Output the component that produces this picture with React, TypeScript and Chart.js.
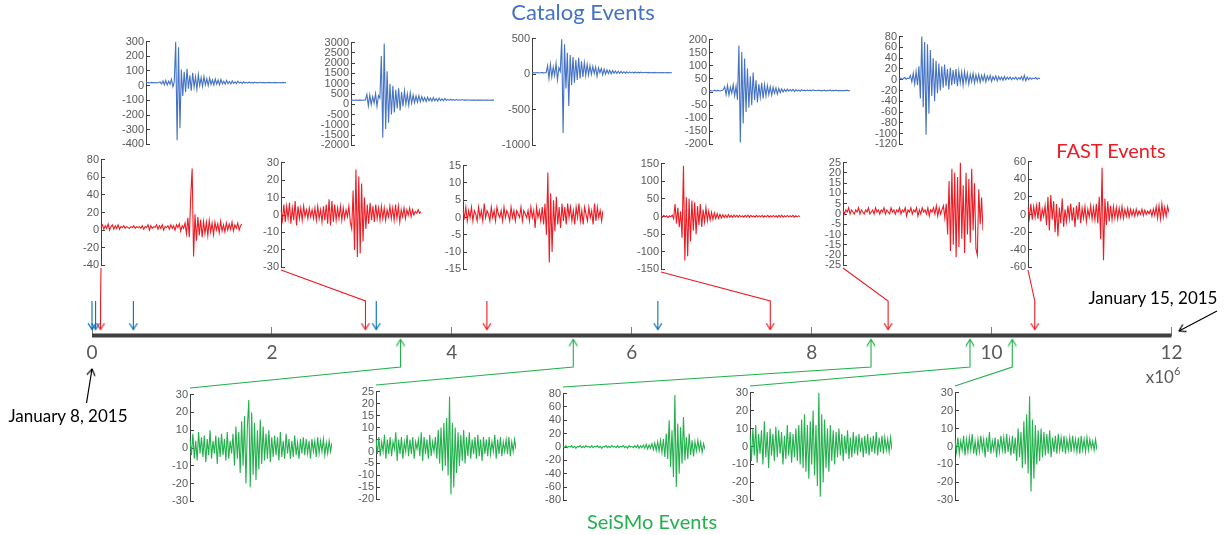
import React, { useEffect, useRef } from 'react';
import { Chart, registerables } from 'chart.js';
Chart.register(...registerables);

const W = 1231;
const H = 535;

// ---------- timeline data (units of 10^6) ----------
const timelineTickStep = 2;
const timelineMin = 0;
const timelineMax = 12;
const catalogTimes = [0.0, 0.04, 0.46, 3.16, 6.29];
const fastTimes = [0.095, 3.04, 4.39, 7.54, 8.85, 10.48];
const fastLinked = [true, true, false, true, true, true];
const seismoTimes = [3.43, 5.35, 8.66, 9.76, 10.23];

// ---------- y ranges of the small panels [min, max, step] ----------
const catalogRanges = [[-400, 300, 100], [-2000, 3000, 500], [-1000, 500, 500], [-200, 200, 50], [-120, 80, 20]];
const fastRanges = [[-40, 80, 20], [-30, 30, 10], [-15, 15, 5], [-150, 150, 50], [-25, 25, 5], [-60, 60, 20]];
const seismoRanges = [[-30, 30, 10], [-20, 25, 5], [-80, 80, 20], [-30, 30, 10], [-30, 30, 10]];

// ---------- waveforms ----------
const catalog1 = [20,21,19,20,22,19,21,20,19,21,25,12,32,6,36,4,30,10,44,-8,28,298,-372,262,-290,110,-70,95,-45,115,-20,70,-35,88,-10,60,-25,75,0,55,-5,62,5,48,0,52,8,40,5,45,10,38,6,42,12,30,10,36,14,28,12,32,16,26,14,30,18,24,15,27,18,23,17,25,19,22,18,24,19,21,20,23,18,22,19,21,20,22,19,21,20,22,19,21,20,21,19,22,20,21];
const catalog2 = [200,205,195,200,210,190,200,205,195,200,210,480,-80,450,-20,380,60,520,-100,420,300,2350,-1630,2950,-1200,1600,-900,1000,-500,900,-400,700,-200,780,-300,600,-100,650,0,500,-50,560,50,450,80,400,100,420,120,380,150,330,130,350,160,300,150,320,170,280,160,300,180,260,170,280,185,240,190,250,195,230,190,240,200,220,195,230,200,215,200,220,195,210,200,212,198,208,200,210,200,206,198,204,200,205,199,203,200,202];
const catalog3 = [20,22,18,20,24,17,20,22,19,21,20,120,-60,140,-40,100,-20,150,-80,90,40,490,-826,420,-200,300,-447,270,-150,240,-120,200,-80,230,-60,180,-40,160,-20,140,-10,120,0,110,10,100,-30,90,20,80,-10,70,0,60,10,55,5,50,15,45,10,42,12,38,15,35,14,34,16,32,18,30,17,31,18,28,19,29,18,27,20,26,19,25,20,24,19,25,20,23,20,24,19,22,20,23,19,22,20,21];
const catalog4 = [5,6,4,5,7,4,6,5,4,6,8,20,-10,25,-12,18,-5,28,-15,22,-30,177,-193,153,-120,128,-76,90,-60,60,-50,74,-30,45,-40,30,-20,35,-25,28,-15,25,-10,20,-12,18,-5,16,-8,14,-2,12,0,10,2,11,3,9,4,10,2,9,4,8,3,9,5,7,4,8,5,7,4,8,6,6,5,7,5,6,5,7,4,6,5,8,4,6,5,7,5,6,4,6,5,6,5,7,4,6];
const catalog5 = [2,3,1,2,4,1,3,2,8,-4,12,-8,15,-10,25,-35,81,-51,70,-102,66,-63,55,-30,40,-40,35,-25,30,-20,25,-15,28,-12,20,-18,22,-10,18,-8,20,-12,16,-6,14,-10,15,-5,12,-8,10,-4,12,-6,9,-3,10,-5,8,-2,9,-4,7,-1,8,-3,6,0,7,-2,6,0,5,-1,6,0,5,1,5,0,4,1,5,0,4,1,6,-1,8,-2,5,0,4,1,3,2,4,1,3,2];

const fast1 = [3,6,1,5,2,7,0,4,6,1,5,2,6,1,4,3,5,2,4,3,2,4,3,5,2,4,3,4,2,5,1,4,3,6,0,5,2,4,3,6,1,5,2,6,0,4,3,5,1,6,2,5,0,6,3,7,-1,5,2,8,-4,14,-8,38,70,-30,18,-12,15,-6,12,-8,10,-4,9,-6,11,-2,8,-5,9,0,7,-3,10,-1,6,-2,8,0,7,1,9,-1,6,2,8,0,5,7];
const fast2 = [3,-3,6,-4,5,-2,7,-5,4,-3,8,-6,5,-2,4,-3,5,-1,3,-2,4,-1,3,-2,4,-3,5,-2,3,-4,5,-3,6,-5,9,-6,8,-4,6,-3,4,-2,5,-3,4,-2,3,-1,5,-4,-8,14,-20,26,-24,22,-22,18,-15,10,-8,6,-5,7,-3,5,-4,6,-2,4,-3,5,-2,4,-3,3,-1,5,-2,4,-3,6,-2,5,-4,3,-1,4,-2,3,0,4,-1,3,0,2,1,3,1,2];
const fast3 = [2,0,3,-1,2,0,3,-1,2,1,-1,3,0,2,-1,4,0,2,1,-1,3,0,2,-1,3,1,0,2,-1,3,0,2,1,-1,3,0,2,-1,2,1,0,3,-1,2,1,0,2,-1,3,0,2,-3,3,0,2,-1,3,-2,4,-5,13,-13,7,-10,5,-4,6,-2,3,-3,4,-1,3,-2,4,0,3,-1,2,-2,3,0,4,-1,2,-2,3,1,-1,3,0,2,-2,4,-1,3,0,2,-1,2];
const fast4 = [1,-2,3,-1,2,-3,2,-1,4,-6,35,-20,25,-30,15,-60,144,-125,55,-113,50,-70,45,-40,40,-50,30,-25,35,-30,20,-15,25,-12,15,-10,12,-8,10,-6,8,-5,6,-4,5,-3,4,-3,5,-2,3,-2,4,-1,3,-2,3,-1,2,-2,3,-1,4,-2,3,-1,2,-2,3,-1,2,-1,3,-2,2,-1,3,-2,2,-1,3,-1,2,-2,3,-1,4,-2,2,-1,3,-1,2,-1,3,-2,2,-1,2,0];
const fast5 = [2,0,2,1,3,0,2,1,0,2,1,3,0,2,1,0,2,1,3,0,1,2,0,3,1,2,0,2,1,3,0,2,1,0,3,1,2,0,2,1,3,0,2,1,3,-1,2,1,3,0,2,1,3,-1,2,0,3,1,2,0,3,-1,2,1,3,0,4,-1,3,0,2,4,-2,5,-10,16,-18,22,-15,20,-21,18,-16,25,-12,14,-19,20,-10,17,-14,22,-8,15,-17,-20,12,-5,8,-8];
const fast6 = [8,-4,12,-6,9,-3,10,-5,14,-8,6,-2,10,-12,20,-18,22,-6,15,-20,12,-25,8,-10,18,-14,6,-8,10,-5,12,-7,8,-14,10,-6,14,-10,7,-4,9,-8,6,-3,10,-5,8,-6,12,-10,20,-28,53,-52,18,-12,15,-8,10,-6,9,-4,8,-5,7,-3,9,-4,6,-2,7,-3,6,-1,5,-2,6,-1,4,0,6,-1,5,0,4,1,5,-2,6,-1,9,-4,10,-5,12,-3,8,-2,9,2];

const seismo1 = [5,-4,8,-6,4,-7,9,-3,6,-5,7,-8,5,-4,10,-6,4,-3,7,-9,6,-5,8,-4,5,-7,9,-6,4,-3,8,-10,12,-6,9,-14,15,-10,18,-20,12,27,-22,20,-15,14,-18,10,-12,16,-9,12,-7,8,-6,10,-8,6,-5,7,-4,6,-7,9,-5,4,-6,8,-3,5,-6,4,-5,7,-4,3,-6,5,-3,6,-4,5,-3,4,-6,5,-2,4,-5,6,-3,4,-2,5,-4,3,-3,4,-2,3];
const seismo2 = [5,-1,6,-2,4,0,7,-3,5,-1,6,-2,4,1,8,-4,5,-1,6,-3,4,0,7,-2,5,-1,6,-3,4,1,5,-2,8,-4,6,-1,5,-3,7,-2,4,0,6,-3,9,-5,10,-8,12,-6,14,-10,23,-18,12,-15,10,-9,8,-6,7,-4,9,-5,6,-2,8,-3,5,-1,6,-3,7,-2,5,-4,6,-1,5,-2,6,-1,4,0,7,-3,5,-1,6,-2,4,0,5,-1,6,-2,4,0,5,1];
const seismo3 = [1,-1,2,-1,1,0,2,-1,1,-2,1,0,2,-1,1,-1,2,0,1,-1,2,-1,1,0,2,-1,1,-2,1,0,2,-1,1,-1,2,0,1,-1,2,-1,1,0,2,-1,1,-2,2,0,1,-1,2,-1,3,-2,2,-1,3,-2,4,-3,3,-2,5,-4,6,-5,8,-6,10,-8,12,-15,20,-18,40,-30,25,-45,78,-60,35,-40,30,-25,45,-20,15,-18,20,-12,10,-14,8,-6,10,-5,7,-8,5,-4];
const seismo4 = [6,-8,10,-5,12,-9,7,-4,9,-10,14,-6,8,-12,10,-5,7,-8,11,-6,9,-4,8,-10,6,-7,12,-5,8,-9,7,-6,10,-8,12,-10,15,-12,18,-14,12,-18,14,-10,20,-16,12,-22,30,-28,18,-20,15,-12,10,-14,12,-8,9,-10,8,-6,10,-5,7,-8,6,-4,9,-7,5,-6,8,-4,6,-5,7,-3,5,-6,6,-4,7,-5,5,-3,6,-4,8,-5,5,-3,6,-4,5,-2,4,-3,5,-2];
const seismo5 = [4,-3,5,-4,3,-2,6,-5,4,-3,5,-2,7,-4,3,-5,4,-3,6,-2,4,-6,5,-3,8,-4,3,-2,5,-6,4,-3,6,-2,5,-4,7,-3,4,-5,6,-4,5,-8,10,-6,8,-12,14,-10,18,-15,28,-25,15,-18,12,-10,9,-8,10,-6,8,-5,7,-4,9,-6,5,-3,6,-4,7,-2,5,-3,6,-4,4,-2,5,-3,6,-2,4,-3,5,-4,6,-2,4,-3,5,-2,4,-1,3,-2,4,-2];

const catalogData = [catalog1, catalog2, catalog3, catalog4, catalog5];
const fastData = [fast1, fast2, fast3, fast4, fast5, fast6];
const seismoData = [seismo1, seismo2, seismo3, seismo4, seismo5];

// ---------- layout (page pixels) ----------
const X0 = 92;        // timeline pixel of t = 0
const X12 = 1171.5;   // timeline pixel of t = 12
const PXU = (X12 - X0) / (timelineMax - timelineMin);
const AXIS_Y = 335.5;

// [axisX, topY, bottomY, rightX]
const catalogBoxes = [[146, 39, 147, 286], [351, 40, 148, 494], [532, 36, 148, 672], [709, 37, 147, 850], [899, 34, 147, 1040]];
const fastBoxes = [[101, 157, 268, 242], [281, 160, 270, 421], [463, 163, 272, 603], [661, 161, 272, 800], [843, 160, 268, 983], [1028, 159, 270, 1169]];
const seismoBoxes = [[190, 392, 504, 332], [376, 389, 502, 516], [563, 391, 503, 705], [750, 390, 503, 892], [955, 390, 503, 1097]];

const BLUE = '#4472C4';
const BLUE_ARROW = '#0070C0';
const RED = '#ED1C24';
const GREEN = '#22B14C';
const LABEL_W = 40;
const PAD = 10;

type Panel = { box: number[]; range: number[]; data: number[]; color: string };

const panels: Panel[] = [
  ...catalogData.map((d, i) => ({ box: catalogBoxes[i], range: catalogRanges[i], data: d, color: BLUE })),
  ...fastData.map((d, i) => ({ box: fastBoxes[i], range: fastRanges[i], data: d, color: RED })),
  ...seismoData.map((d, i) => ({ box: seismoBoxes[i], range: seismoRanges[i], data: d, color: GREEN })),
];

function makeHead(color: string): HTMLCanvasElement {
  const c = document.createElement('canvas');
  c.width = 14;
  c.height = 14;
  const g = c.getContext('2d')!;
  g.strokeStyle = color;
  g.lineWidth = 1.3;
  g.lineCap = 'round';
  g.lineJoin = 'round';
  g.beginPath();
  g.moveTo(3.2, 13);
  g.lineTo(7, 7);
  g.lineTo(10.8, 13);
  g.stroke();
  return c;
}

const toT = (px: number) => (px - X0) / PXU;

function panelChart(canvas: HTMLCanvasElement, p: Panel) {
  const [min, max, step] = p.range;
  return new Chart(canvas, {
    type: 'line',
    data: {
      labels: p.data.map((_, i) => i),
      datasets: [{ data: p.data, borderColor: p.color, borderWidth: 1.1, pointRadius: 0, tension: 0, fill: false }],
    },
    options: {
      animation: false,
      responsive: false,
      events: [],
      layout: { autoPadding: false, padding: { top: PAD, bottom: PAD, left: 0, right: 0 } },
      plugins: { legend: { display: false }, tooltip: { enabled: false } },
      scales: {
        x: { display: false },
        y: {
          min, max,
          afterFit: (s: any) => { s.width = LABEL_W; },
          border: { display: true, color: '#404040', width: 1 },
          grid: { display: true, drawOnChartArea: false, drawTicks: true, tickLength: -4, color: '#404040' },
          ticks: {
            stepSize: step, autoSkip: false, maxTicksLimit: 40, padding: 6, color: '#595959',
            font: { family: "'Liberation Sans', Arial, sans-serif", size: 11 },
            callback: (v: any) => String(v),
          },
        },
      },
    },
  } as any);
}

function overlayChart(canvas: HTMLCanvasElement) {
  const heads: Record<string, HTMLCanvasElement> = {
    [RED]: makeHead(RED), [BLUE_ARROW]: makeHead(BLUE_ARROW), [GREEN]: makeHead(GREEN), '#000': makeHead('#000'),
  };
  const arrow = (pts: { x: number; y: number }[], color: string, rot: number, width = 1.1) => ({
    data: pts,
    borderColor: color,
    borderWidth: width,
    pointRadius: (c: any) => (c.dataIndex === pts.length - 1 ? 5 : 0),
    pointStyle: heads[color],
    pointRotation: rot,
    tension: 0,
    fill: false,
    clip: false,
  });
  const datasets: any[] = [];
  // timeline bar
  datasets.push({
    data: [{ x: timelineMin, y: AXIS_Y }, { x: timelineMax, y: AXIS_Y }],
    borderColor: '#404040', borderWidth: 4, pointRadius: 0, fill: false, tension: 0,
  });
  const TOP_TIP = 329.5;
  const BEND_TOP = 301;
  catalogTimes.forEach((t) => {
    datasets.push(arrow([{ x: t, y: BEND_TOP }, { x: t, y: TOP_TIP }], BLUE_ARROW, 180));
  });
  fastTimes.forEach((t, i) => {
    const b = fastBoxes[i];
    const pts = fastLinked[i]
      ? [{ x: toT(b[0]), y: b[2] }, { x: t, y: BEND_TOP }, { x: t, y: TOP_TIP }]
      : [{ x: t, y: BEND_TOP }, { x: t, y: TOP_TIP }];
    datasets.push(arrow(pts, RED, 180));
  });
  const BOT_TIP = 339.5;
  const BEND_BOT = 367;
  seismoTimes.forEach((t, i) => {
    const b = seismoBoxes[i];
    datasets.push(arrow([{ x: toT(b[0]), y: b[1] - 4 }, { x: t, y: BEND_BOT }, { x: t, y: BOT_TIP }], GREEN, 0));
  });
  // date pointer arrows
  const a1 = [{ x: toT(86.5), y: 403 }, { x: timelineMin, y: 369 }];
  const a2 = [{ x: toT(1217), y: 311 }, { x: timelineMax + toT(1179) - toT(X12), y: 331 }];
  const rot = (p: any[]) => {
    const dx = (p[1].x - p[0].x) * PXU;
    const dy = p[1].y - p[0].y;
    return (Math.atan2(dx, -dy) * 180) / Math.PI;
  };
  datasets.push(arrow(a1, '#000', rot(a1), 1.2));
  datasets.push(arrow(a2, '#000', rot(a2), 1.2));

  return new Chart(canvas, {
    type: 'line',
    data: { datasets },
    options: {
      animation: false,
      responsive: false,
      events: [],
      layout: { autoPadding: false, padding: 0 },
      plugins: { legend: { display: false }, tooltip: { enabled: false } },
      scales: {
        y: { display: false, min: 0, max: H, reverse: true },
        x: {
          type: 'linear',
          position: { y: AXIS_Y },
          min: toT(0),
          max: toT(W),
          afterFit: (s: any) => { s.height = 0; },
          border: { display: false },
          grid: { display: true, drawOnChartArea: false, drawTicks: true, tickLength: -9, color: '#808080', lineWidth: 1 },
          ticks: {
            stepSize: timelineTickStep, includeBounds: false, autoSkip: false, maxRotation: 0, padding: 15,
            color: '#595959', font: { family: 'Lato, sans-serif', size: 19 },
            callback: (v: any) => String(v),
          },
        },
      },
    },
  } as any);
}

export default function App() {
  const overlayRef = useRef<HTMLCanvasElement | null>(null);
  const panelRefs = useRef<(HTMLCanvasElement | null)[]>([]);

  useEffect(() => {
    const charts: Chart[] = [];
    panels.forEach((p, i) => {
      const c = panelRefs.current[i];
      if (c) charts.push(panelChart(c, p));
    });
    if (overlayRef.current) charts.push(overlayChart(overlayRef.current));
    return () => charts.forEach((c) => c.destroy());
  }, []);

  const textBase: React.CSSProperties = {
    position: 'absolute', whiteSpace: 'nowrap', lineHeight: 1, transform: 'translate(-50%, -50%)',
    fontFamily: 'Lato, sans-serif',
  };

  return (
    <div style={{ position: 'fixed', left: 0, top: 0, width: W, height: H, background: '#fff', overflow: 'hidden' }}>
      {panels.map((p, i) => {
        const [ax, top, bottom, right] = p.box;
        const w = LABEL_W + right - ax;
        const h = bottom - top + 2 * PAD;
        return (
          <canvas
            key={i}
            ref={(el) => { panelRefs.current[i] = el; }}
            width={w}
            height={h}
            style={{ position: 'absolute', left: ax - LABEL_W, top: top - PAD, width: w, height: h }}
          />
        );
      })}
      <canvas ref={overlayRef} width={W} height={H} style={{ position: 'absolute', left: 0, top: 0, width: W, height: H }} />
      <div style={{ ...textBase, left: 583, top: 12, fontSize: 22, color: BLUE }}>Catalog Events</div>
      <div style={{ ...textBase, left: 1111, top: 150, fontSize: 20, color: RED }}>FAST Events</div>
      <div style={{ ...textBase, left: 652, top: 521, fontSize: 20, color: GREEN }}>SeiSMo Events</div>
      <div style={{ ...textBase, left: 68, top: 415, fontSize: 17, color: '#000' }}>January 8, 2015</div>
      <div style={{ ...textBase, left: 1153, top: 297, fontSize: 17, color: '#000' }}>January 15, 2015</div>
      <div style={{ ...textBase, left: 1163, top: 376, fontSize: 17, color: '#595959' }}>
        x10<sup style={{ fontSize: 11, verticalAlign: 'top', position: 'relative', top: -3 }}>6</sup>
      </div>
    </div>
  );
}
